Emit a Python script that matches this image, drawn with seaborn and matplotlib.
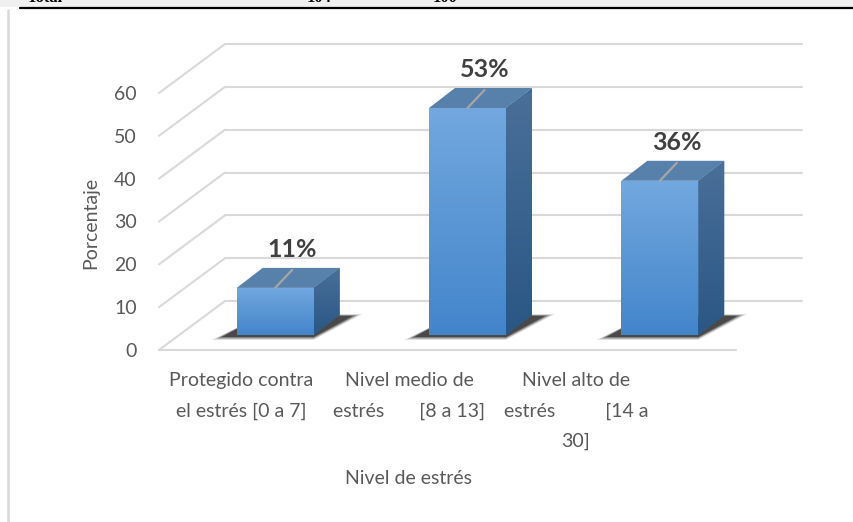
import numpy as np
import pandas as pd
import matplotlib
matplotlib.use("Agg")
import matplotlib.pyplot as plt
import seaborn as sns
from matplotlib.transforms import ScaledTranslation
from matplotlib.patches import Polygon, Rectangle
from matplotlib.lines import Line2D
from matplotlib.colors import to_rgb

# ---------------- data ----------------
categories = ["Protegido contra el estrés [0 a 7]",
              "Nivel medio de estrés [8 a 13]",
              "Nivel alto de estrés [14 a 30]"]
tick_labels = ["Protegido contra\nel estrés [0 a 7]",
               "Nivel medio de\nestrés       [8 a 13]",
               "Nivel alto de\nestrés          [14 a\n30]"]
values = [11, 53, 36]
value_labels = ["11%", "53%", "36%"]
y_ticks = [0, 10, 20, 30, 40, 50, 60]
top_row = ["Total", "104", "100"]

# ---------------- style ----------------
sns.set_theme(style="white")
FONT = ["Lato", "DejaVu Sans"]
plt.rcParams["font.family"] = FONT
TXT = "#595959"
GRID = "#d9d9d9"

W, H, DPI = 854, 522, 100
fig = plt.figure(figsize=(W / DPI, H / DPI), dpi=DPI, facecolor="white")

def fx(x):
    return x / W

def fy(y):
    return 1 - y / H

# front plane of the 3D box
left_px, right_px, bot_px, top_px = 159, 736, 350, 93
ax = fig.add_axes([fx(left_px), fy(bot_px), (right_px - left_px) / W, (bot_px - top_px) / H])
ax.set_facecolor("none")

df = pd.DataFrame({"cat": categories, "val": values})
sns.barplot(data=df, x="cat", y="val", width=0.4, color="#5b9bd5", ax=ax,
            saturation=1, zorder=5)

ax.set_xlim(-0.5, 2.5)
ax.set_ylim(0, 60)
for s in ax.spines.values():
    s.set_visible(False)
ax.set_xticks([])
ax.set_xlabel("")
ax.set_ylabel("")
ax.set_yticks(y_ticks)
ax.set_yticklabels([str(t) for t in y_ticks])
ax.tick_params(axis="y", length=0, pad=16, labelsize=14, labelcolor=TXT)
for lbl in ax.get_yticklabels():
    lbl.set_fontfamily(FONT)

# unit conversions (data per pixel)
xpp = 3.0 / (right_px - left_px)
ypp = 60.0 / (bot_px - top_px)

def off(dx, dy):
    """data transform shifted by dx (right) and dy (up) pixels"""
    return ax.transData + ScaledTranslation(dx / DPI, dy / DPI, fig.dpi_scale_trans)

# full depth of the box (back wall)
DX, DY = 66 * xpp, 49 * ypp
# bar plane offset and bar depth (pixels)
BPX, BPY = 20, 15
BDX, BDY = 26 * xpp, 20 * ypp

# grid: back wall horizontals, left wall diagonals, front floor edge
for t in y_ticks:
    ax.add_line(Line2D([-0.5 + DX, 2.5 + DX], [t + DY, t + DY], color=GRID, lw=1.5,
                       clip_on=False, zorder=1))
    ax.add_line(Line2D([-0.5, -0.5 + DX], [t, t + DY], color=GRID, lw=1.5,
                       clip_on=False, zorder=1))
ax.add_line(Line2D([-0.5, 2.5], [0, 0], color=GRID, lw=1.5, clip_on=False, zorder=1))

def vgrad(c_top, c_bot, n=64):
    a, b = np.array(to_rgb(c_top)), np.array(to_rgb(c_bot))
    t = np.linspace(0, 1, n)[:, None]
    return (a * (1 - t) + b * t)[:, None, :]

tr_bar = off(BPX, BPY)
patches = list(ax.patches)
for p in patches:
    x0, w, h = p.get_x(), p.get_width(), p.get_height()
    x1 = x0 + w
    p.set_transform(tr_bar)
    p.set_edgecolor("none")
    # shadow (layered for soft edges)
    for k, a in enumerate([0.10, 0.15, 0.22, 0.30, 0.45]):
        g = (4 - k) * 2.5
        sh = Polygon([(x0 - (15 + g) * xpp, -(2 + g * 0.3) * ypp), (x1, -(2 + g * 0.3) * ypp),
                      (x1 + BDX + (13 + g) * xpp, BDY - (1 - g * 0.2) * ypp),
                      (x0 + BDX, BDY)],
                     closed=True, facecolor="#151515", edgecolor="none", alpha=a,
                     transform=tr_bar, zorder=3, clip_on=False)
        ax.add_patch(sh)
    # front face gradient
    im = ax.imshow(vgrad("#72a8df", "#4385cb"), extent=[x0, x1, 0, h], aspect="auto",
                   transform=tr_bar, zorder=6, interpolation="bilinear")
    im.set_clip_path(p)
    # side face
    side = Polygon([(x1, 0), (x1, h), (x1 + BDX, h + BDY), (x1 + BDX, BDY)], closed=True,
                   transform=tr_bar, facecolor="#3a6795", edgecolor="none", zorder=5,
                   clip_on=False)
    ax.add_patch(side)
    im2 = ax.imshow(vgrad("#4a6f99", "#2a5785"), extent=[x1, x1 + BDX, 0, h + BDY],
                    aspect="auto", transform=tr_bar, zorder=6, interpolation="bilinear")
    im2.set_clip_path(side)
    # top face
    top = Polygon([(x0, h), (x1, h), (x1 + BDX, h + BDY), (x0 + BDX, h + BDY)], closed=True,
                  transform=tr_bar, facecolor="#5780aa", edgecolor="none", zorder=6,
                  clip_on=False)
    ax.add_patch(top)

ax.set_xlim(-0.5, 2.5)
ax.set_ylim(0, 60)

# data labels with leader lines
for p, v, lab in zip(patches, values, value_labels):
    cx = p.get_x() + p.get_width() / 2
    ax.add_line(Line2D([cx + BPX * xpp, cx + 37 * xpp], [v + BPY * ypp, v + 33 * ypp],
                       color="#a6a6a6", lw=1.6, zorder=8, clip_on=False))
    ax.text(cx, v, lab, transform=off(37, 46), ha="center", va="baseline",
            fontsize=18, fontweight="bold", color="#404040", zorder=9, clip_on=False)

# category labels
label_x = [241, 409, 576]
for lx, lab in zip(label_x, tick_labels):
    fig.text(fx(lx), fy(372), lab, ha="center", va="top", fontsize=14, color=TXT,
             linespacing=1.95, multialignment="center")

fig.text(fx(409), fy(478), "Nivel de estrés", ha="center", va="center", fontsize=14,
         color=TXT)
fig.text(fx(91), fy(223), "Porcentaje", ha="center", va="center", rotation=90,
         fontsize=14, color=TXT)

# page context: table bottom row cut off above the chart, frame border
fig.add_artist(Rectangle((0, fy(7)), 1, 1 - fy(7), transform=fig.transFigure,
                         facecolor="#f0f0f0", edgecolor="none", zorder=0))
fig.add_artist(Line2D([fx(20), 1], [fy(8), fy(8)], transform=fig.transFigure,
                      color="black", lw=1.6))
fig.add_artist(Line2D([fx(8), fx(8)], [fy(10), 0], transform=fig.transFigure,
                      color="#d9d9d9", lw=1.8))
for tx, t in zip([27, 307, 433], top_row):
    fig.text(fx(tx), fy(1.5), t, ha="left", va="baseline", fontsize=12,
             fontweight="bold", family=["Liberation Serif", "DejaVu Serif"], color="black")

fig.savefig("out.png", dpi=DPI, facecolor="white")
